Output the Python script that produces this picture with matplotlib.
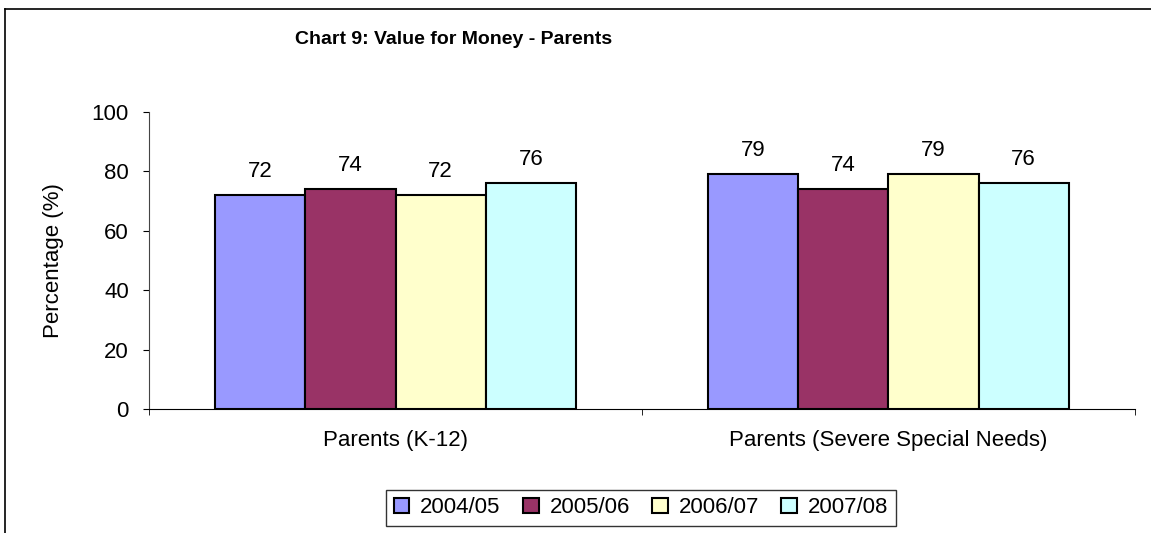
import numpy as np
import matplotlib
matplotlib.use("Agg")
import matplotlib.pyplot as plt
from matplotlib.lines import Line2D

plt.rcParams['font.family'] = ['Liberation Sans', 'DejaVu Sans']

# Données
categories = ["Parents (K-12)", "Parents (Severe Special Needs)"]
years = ["2004/05", "2005/06", "2006/07", "2007/08"]
values = {
    "2004/05": [72, 79],
    "2005/06": [74, 74],
    "2006/07": [72, 79],
    "2007/08": [76, 76],
}
colors = ["#9999FF", "#993366", "#FFFFCC", "#CCFFFF"]

fs = 16

fig = plt.figure(figsize=(11.51, 5.33), dpi=100)
ax = fig.add_axes([0.1295, 0.2326, 0.8565, 0.5574])

x = np.arange(len(categories))
w = 0.183
for i, yr in enumerate(years):
    pos = x + (i - 1.5) * w
    bars = ax.bar(pos, values[yr], width=w, color=colors[i], edgecolor="black",
                  linewidth=1.5, label=yr)
    for b, v in zip(bars, values[yr]):
        ax.annotate(str(v), (b.get_x() + b.get_width() / 2, v), xytext=(0, 9.5),
                    textcoords="offset points", ha="center", va="bottom", fontsize=fs)

ax.set_xlim(-0.5, 1.5)
ax.set_ylim(0, 100)
ax.set_yticks(range(0, 101, 20))
ax.set_xticks(x)
ax.set_xticklabels(categories, fontsize=fs)
ax.set_xticks([-0.5, 0.5, 1.5], minor=True)
ax.tick_params(axis="x", which="major", length=0, pad=15)
ax.tick_params(axis="x", which="minor", length=4.5, direction="out")
ax.tick_params(axis="y", length=4.5, direction="out", labelsize=fs, pad=10)
ax.spines["top"].set_visible(False)
ax.spines["right"].set_visible(False)
ax.spines["left"].set_color("#444444")
ax.set_ylabel("Percentage (%)", fontsize=fs)
ax.yaxis.set_label_coords(-0.086, 0.5)

fig.text(0.394, 0.925, "Chart 9: Value for Money - Parents", ha="center", va="center",
         fontsize=14, fontweight="bold")

leg = fig.legend(loc="center", bbox_to_anchor=(0.557, 0.047), ncol=4, fontsize=fs,
                 frameon=True, fancybox=False, edgecolor="black", handlelength=0.7,
                 handleheight=0.7, handletextpad=0.5, columnspacing=1.0, borderpad=0.35)
leg.get_frame().set_linewidth(1)

# Cadre du graphique
fig.add_artist(Line2D([5 / 1151, 5 / 1151], [0, 1 - 9 / 533], color="black", lw=1.2))
fig.add_artist(Line2D([5 / 1151, 1], [1 - 9 / 533, 1 - 9 / 533], color="black", lw=1.2))

plt.savefig("out.png", dpi=100)
